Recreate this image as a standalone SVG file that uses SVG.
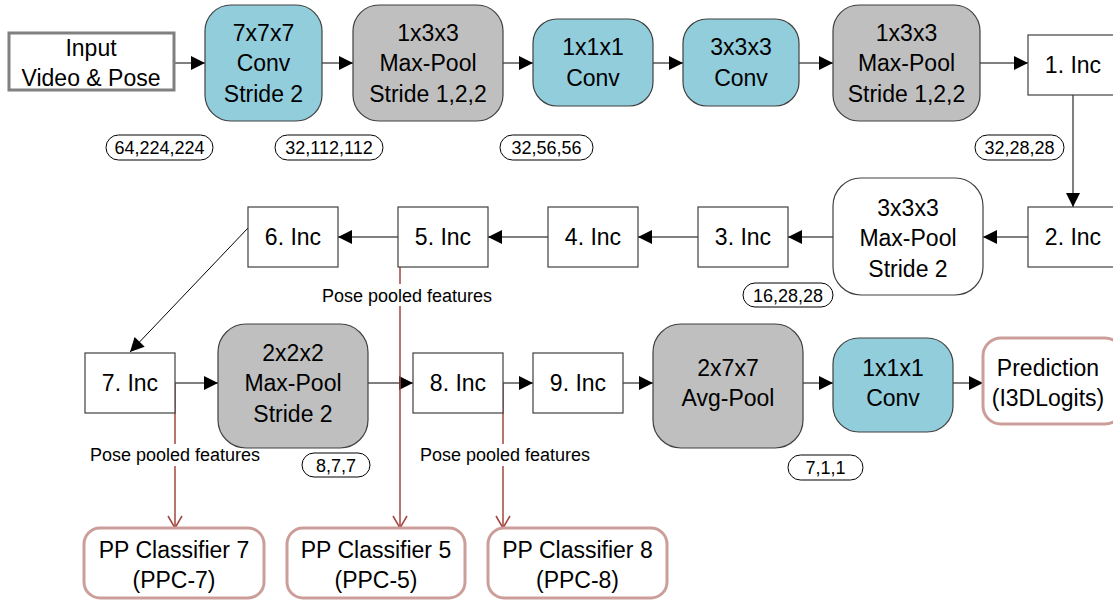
<svg xmlns="http://www.w3.org/2000/svg" width="1113" height="602" viewBox="0 0 1113 602">
<style>
text{font-family:"Liberation Sans",Arial,sans-serif;fill:#000;text-anchor:middle}
.t{font-size:23px}
.p{font-size:18px}
.f{font-size:18px}
.blue{fill:#92CDDC;stroke:#404040;stroke-width:1.2}
.gray{fill:#BFBFBF;stroke:#404040;stroke-width:1.2}
.white{fill:#fff;stroke:#404040;stroke-width:1.2}
.inc{fill:#fff;stroke:#404040;stroke-width:1.2}
.pink{fill:#fff;stroke:#CC9E9A;stroke-width:3}
.pill{fill:#fff;stroke:#000;stroke-width:1}
.c{stroke:#555;stroke-width:1.5;fill:none;marker-end:url(#ah)}
.r{stroke:#A5443E;stroke-width:1.5;fill:none;marker-end:url(#oh)}
</style>
<defs>
<marker id="ah" markerUnits="userSpaceOnUse" markerWidth="16" markerHeight="16" refX="15" refY="8" orient="auto">
<path d="M1,1 L15,8 L1,15 z" fill="#000"/>
</marker>
<marker id="oh" markerUnits="userSpaceOnUse" markerWidth="16" markerHeight="16" refX="13" refY="8" orient="auto">
<path d="M1,1 L13,8 L1,15" fill="none" stroke="#A5443E" stroke-width="1.5"/>
</marker>
</defs>
<g id="connectors">
<path class="c" d="M175,63 H205"/>
<path class="c" d="M322,63 H353"/>
<path class="c" d="M503,63 H533"/>
<path class="c" d="M653,63 H683"/>
<path class="c" d="M799,63 H833"/>
<path class="c" d="M980,63 H1028"/>
<path class="c" d="M1073,95 V207"/>
<path class="c" d="M1028,237 H983"/>
<path class="c" d="M833,237 H788"/>
<path class="c" d="M698,237 H638"/>
<path class="c" d="M548,237 H488"/>
<path class="c" d="M398,237 H338"/>
<path class="c" d="M248,228 L130,352" style="stroke:#000;stroke-width:1"/>
<path class="c" d="M175,383 H218"/>
<path class="c" d="M368,383 H413"/>
<path class="c" d="M503,383 H533"/>
<path class="c" d="M623,383 H653"/>
<path class="c" d="M803,383 H833"/>
<path class="c" d="M953,383 H983"/>
<path class="r" d="M175,383 V528"/>
<path class="r" d="M400,267 V528"/>
<path class="r" d="M503,383 V528"/>
</g>
<g id="labels">
<rect x="316" y="284" width="182" height="22" fill="#fff"/>
<text class="f" x="407" y="302">Pose pooled features</text>
<rect x="84" y="444" width="182" height="22" fill="#fff"/>
<text class="f" x="175" y="461">Pose pooled features</text>
<rect x="414" y="444" width="182" height="22" fill="#fff"/>
<text class="f" x="505" y="461">Pose pooled features</text>
</g>
<g id="input"><rect x="9" y="33" width="165" height="57" fill="#fff" stroke="#808080" stroke-width="3"/>
<text class="t" x="91" y="56">Input</text><text class="t" x="91" y="86">Video &amp; Pose</text></g>
<g id="conv7"><rect class="blue" x="205" y="5" width="117" height="116" rx="26"/>
<text class="t" x="263.5" y="41">7x7x7</text><text class="t" x="263.5" y="71">Conv</text><text class="t" x="263.5" y="102">Stride 2</text></g>
<g id="pool1"><rect class="gray" x="353" y="5" width="150" height="116" rx="26"/>
<text class="t" x="428" y="41">1x3x3</text><text class="t" x="428" y="71">Max-Pool</text><text class="t" x="428" y="102">Stride 1,2,2</text></g>
<g id="conv1"><rect class="blue" x="533" y="19" width="120" height="87" rx="24"/>
<text class="t" x="593" y="55">1x1x1</text><text class="t" x="593" y="86">Conv</text></g>
<g id="conv3"><rect class="blue" x="683" y="19" width="116" height="87" rx="24"/>
<text class="t" x="741" y="55">3x3x3</text><text class="t" x="741" y="86">Conv</text></g>
<g id="pool2"><rect class="gray" x="833" y="5" width="147" height="116" rx="26"/>
<text class="t" x="906.5" y="41">1x3x3</text><text class="t" x="906.5" y="71">Max-Pool</text><text class="t" x="906.5" y="102">Stride 1,2,2</text></g>
<g id="inc1"><rect class="inc" x="1028" y="35" width="90" height="60"/><text class="t" x="1073" y="73">1. Inc</text></g>
<g id="pill1"><rect class="pill" x="106" y="135" width="107" height="25" rx="12.5"/><text class="p" x="159.5" y="154">64,224,224</text></g>
<g id="pill2"><rect class="pill" x="275" y="135" width="108" height="25" rx="12.5"/><text class="p" x="329" y="154">32,112,112</text></g>
<g id="pill3"><rect class="pill" x="500" y="135" width="93" height="25" rx="12.5"/><text class="p" x="546.5" y="154">32,56,56</text></g>
<g id="pill4"><rect class="pill" x="975" y="135" width="89" height="25" rx="12.5"/><text class="p" x="1019.5" y="154">32,28,28</text></g>
<g id="inc2"><rect class="inc" x="1028" y="207" width="90" height="60"/><text class="t" x="1073" y="245">2. Inc</text></g>
<g id="pool3"><rect class="white" x="833" y="178" width="150" height="117" rx="28"/>
<text class="t" x="908" y="216">3x3x3</text><text class="t" x="908" y="246">Max-Pool</text><text class="t" x="908" y="277">Stride 2</text></g>
<g id="inc3"><rect class="inc" x="698" y="207" width="90" height="60"/><text class="t" x="743" y="245">3. Inc</text></g>
<g id="inc4"><rect class="inc" x="548" y="207" width="90" height="60"/><text class="t" x="593" y="245">4. Inc</text></g>
<g id="inc5"><rect class="inc" x="398" y="207" width="90" height="60"/><text class="t" x="443" y="245">5. Inc</text></g>
<g id="inc6"><rect class="inc" x="248" y="207" width="90" height="60"/><text class="t" x="293" y="245">6. Inc</text></g>
<g id="pill5"><rect class="pill" x="743" y="283" width="90" height="24" rx="12"/><text class="p" x="788" y="301.5">16,28,28</text></g>
<g id="inc7"><rect class="inc" x="85" y="353" width="90" height="60"/><text class="t" x="130" y="391">7. Inc</text></g>
<g id="pool4"><rect class="gray" x="218" y="324" width="150" height="124" rx="28"/>
<text class="t" x="293" y="361">2x2x2</text><text class="t" x="293" y="391">Max-Pool</text><text class="t" x="293" y="422">Stride 2</text></g>
<g id="inc8"><rect class="inc" x="413" y="353" width="90" height="60"/><text class="t" x="458" y="391">8. Inc</text></g>
<g id="inc9"><rect class="inc" x="533" y="353" width="90" height="60"/><text class="t" x="578" y="391">9. Inc</text></g>
<g id="avgpool"><rect class="gray" x="653" y="324" width="150" height="124" rx="28"/>
<text class="t" x="728" y="376">2x7x7</text><text class="t" x="728" y="406">Avg-Pool</text></g>
<g id="conv1b"><rect class="blue" x="833" y="338" width="120" height="94" rx="26"/>
<text class="t" x="893" y="376">1x1x1</text><text class="t" x="893" y="406">Conv</text></g>
<g id="prediction"><rect class="pink" x="983" y="338" width="140" height="86" rx="18"/>
<text class="t" x="1048" y="376">Prediction</text><text class="t" x="1048" y="406">(I3DLogits)</text></g>
<g id="pill6"><rect class="pill" x="302" y="453" width="68" height="24" rx="12"/><text class="p" x="336" y="471.5">8,7,7</text></g>
<g id="pill7"><rect class="pill" x="788" y="455" width="75" height="25" rx="12.5"/><text class="p" x="825.5" y="474">7,1,1</text></g>
<g id="ppc7"><rect class="pink" x="84" y="528" width="180" height="70" rx="16"/>
<text class="t" x="174" y="558">PP Classifier 7</text><text class="t" x="174" y="588">(PPC-7)</text></g>
<g id="ppc5"><rect class="pink" x="287" y="528" width="178" height="70" rx="16"/>
<text class="t" x="376" y="558">PP Classifier 5</text><text class="t" x="376" y="588">(PPC-5)</text></g>
<g id="ppc8"><rect class="pink" x="488" y="528" width="179" height="70" rx="16"/>
<text class="t" x="577.5" y="558">PP Classifier 8</text><text class="t" x="577.5" y="588">(PPC-8)</text></g>
</svg>
